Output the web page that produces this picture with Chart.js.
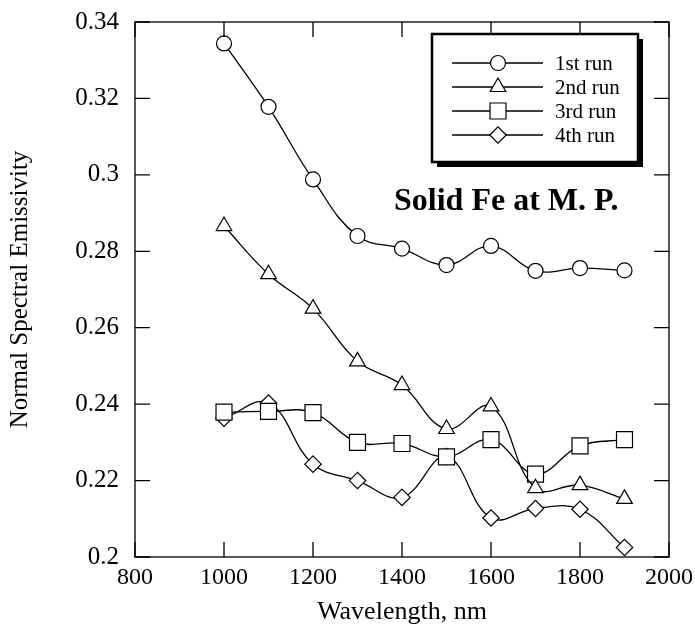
<!DOCTYPE html>
<html>
<head>
<meta charset="utf-8">
<script src="https://cdn.jsdelivr.net/npm/chart.js@4.4.1/dist/chart.umd.min.js"></script>
<style>
    html, body { margin: 0; padding: 0; background: #fff; }
</style>
</head>
<body>
<canvas id="emissChart" width="695" height="629"></canvas>
<script>
// Data
const wavelengths = [1000, 1100, 1200, 1300, 1400, 1500, 1600, 1700, 1800, 1900];
const run1 = [0.3344, 0.3178, 0.2988, 0.2840, 0.2807, 0.2764, 0.2814, 0.2749, 0.2756, 0.2750];
const run2 = [0.2866, 0.2740, 0.2650, 0.2512, 0.2450, 0.2335, 0.2394, 0.2180, 0.2188, 0.2152];
const run3 = [0.2379, 0.2381, 0.2378, 0.2300, 0.2297, 0.2262, 0.2307, 0.2217, 0.2291, 0.2307];
const run4 = [0.2363, 0.2403, 0.2243, 0.2200, 0.2156, 0.2263, 0.2102, 0.2127, 0.2125, 0.2025];
const runLabels = ['1st run', '2nd run', '3rd run', '4th run'];
const xTicks = [800, 1000, 1200, 1400, 1600, 1800, 2000];
const yTicks = [0.2, 0.22, 0.24, 0.26, 0.28, 0.3, 0.32, 0.34];

const serif = '"Liberation Serif", "Times New Roman", serif';

const toPoints = arr => wavelengths.map((w, i) => ({ x: w, y: arr[i] }));

const markerStyles = [
    { pointStyle: 'circle', pointRadius: 7.5 },
    { pointStyle: 'triangle', pointRadius: 9 },
    { pointStyle: 'rect', pointRadius: 11.3 },
    { pointStyle: 'rectRot', pointRadius: 8.2 }
];

const datasets = [run1, run2, run3, run4].map((arr, i) => ({
    label: runLabels[i],
    data: toPoints(arr),
    borderColor: '#000',
    borderWidth: 1.3,
    backgroundColor: '#fff',
    pointBackgroundColor: '#fff',
    pointBorderColor: '#000',
    pointBorderWidth: 1.2,
    pointStyle: markerStyles[i].pointStyle,
    pointRadius: markerStyles[i].pointRadius,
    tension: 0.4,
    fill: false
}));

// keep the layout padding the only thing that sets the plot box
const noScalePadding = s => {
    s.paddingTop = 0;
    s.paddingBottom = 0;
    s.paddingLeft = 0;
    s.paddingRight = 0;
};

// Frame around the plot with inward ticks on all four sides
const frameTicks = {
    id: 'frameTicks',
    afterDraw(chart) {
        const { ctx, chartArea: a, scales } = chart;
        const len = 15;
        ctx.save();
        ctx.strokeStyle = '#000';
        ctx.lineWidth = 1.3;
        ctx.strokeRect(a.left, a.top, a.right - a.left, a.bottom - a.top);
        ctx.beginPath();
        xTicks.forEach(v => {
            const px = scales.x.getPixelForValue(v);
            ctx.moveTo(px, a.bottom); ctx.lineTo(px, a.bottom - len);
            ctx.moveTo(px, a.top); ctx.lineTo(px, a.top + len);
        });
        yTicks.forEach(v => {
            const py = scales.y.getPixelForValue(v);
            ctx.moveTo(a.left, py); ctx.lineTo(a.left + len, py);
            ctx.moveTo(a.right, py); ctx.lineTo(a.right - len, py);
        });
        ctx.stroke();
        ctx.restore();
    }
};

// Boxed legend with drop shadow, plus the annotation text
const boxLegend = {
    id: 'boxLegend',
    afterDraw(chart) {
        const ctx = chart.ctx;
        const x0 = 432, y0 = 34, w = 206, h = 128;
        ctx.save();
        ctx.fillStyle = '#000';
        ctx.fillRect(x0 + 5, y0 + 5, w, h);
        ctx.fillStyle = '#fff';
        ctx.fillRect(x0, y0, w, h);
        ctx.strokeStyle = '#000';
        ctx.lineWidth = 2.5;
        ctx.strokeRect(x0, y0, w, h);

        ctx.font = '21px ' + serif;
        ctx.textBaseline = 'middle';
        chart.data.datasets.forEach((ds, i) => {
            const y = y0 + 29 + i * 24;
            ctx.lineWidth = 1.3;
            ctx.beginPath();
            ctx.moveTo(x0 + 20, y);
            ctx.lineTo(x0 + 111, y);
            ctx.stroke();
            ctx.fillStyle = '#fff';
            ctx.lineWidth = ds.pointBorderWidth;
            Chart.helpers.drawPoint(ctx, {
                pointStyle: ds.pointStyle,
                radius: ds.pointRadius,
                borderWidth: ds.pointBorderWidth,
                rotation: 0
            }, x0 + 66, y);
            ctx.fillStyle = '#000';
            ctx.fillText(ds.label, x0 + 123, y + 1);
        });

        ctx.font = 'bold 32px ' + serif;
        ctx.textBaseline = 'alphabetic';
        ctx.fillText('Solid Fe at M. P.', 394, 210);
        ctx.restore();
    }
};

new Chart(document.getElementById('emissChart'), {
    type: 'line',
    data: { datasets: datasets },
    options: {
        responsive: false,
        animation: false,
        devicePixelRatio: 1,
        layout: { padding: { top: 22, right: 26, left: 0, bottom: 0 } },
        plugins: {
            legend: { display: false },
            tooltip: { enabled: false }
        },
        scales: {
            x: {
                type: 'linear',
                min: 800,
                max: 2000,
                afterBuildTicks: s => { s.ticks = xTicks.map(v => ({ value: v })); },
                afterFit: s => { s.height = 72; noScalePadding(s); },
                grid: { display: false, drawTicks: false },
                border: { display: false },
                ticks: {
                    color: '#000',
                    padding: 6,
                    maxRotation: 0,
                    font: { family: serif, size: 24 },
                    callback: v => String(v)
                },
                title: {
                    display: true,
                    text: 'Wavelength, nm',
                    color: '#000',
                    font: { family: serif, size: 26 },
                    padding: { top: 0, bottom: 1 }
                }
            },
            y: {
                min: 0.2,
                max: 0.34,
                afterBuildTicks: s => { s.ticks = yTicks.map(v => ({ value: v })); },
                afterFit: s => { s.width = 135; noScalePadding(s); },
                grid: { display: false, drawTicks: false },
                border: { display: false },
                ticks: {
                    color: '#000',
                    padding: 16,
                    font: { family: serif, size: 25 },
                    callback: v => String(+v.toFixed(2))
                },
                title: {
                    display: true,
                    text: 'Normal Spectral Emissivity',
                    color: '#000',
                    font: { family: serif, size: 25 },
                    padding: { top: 5, bottom: 0 }
                }
            }
        }
    },
    plugins: [frameTicks, boxLegend]
});
</script>
</body>
</html>
